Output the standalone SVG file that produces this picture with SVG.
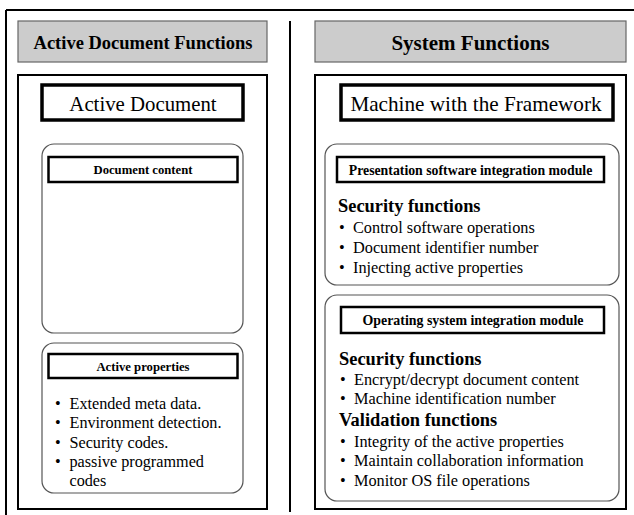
<svg xmlns="http://www.w3.org/2000/svg" width="634" height="515" viewBox="0 0 634 515">
<style>
.hdr{fill:#cccccc;stroke:#666;stroke-width:1.2}
.cont{fill:#fff;stroke:#000;stroke-width:2}
.title{fill:#fff;stroke:#000;stroke-width:3.5}
.rnd{fill:#fff;stroke:#555;stroke-width:1.2}
.lbl{fill:#fff;stroke:#000;stroke-width:2.5}
.b{font-weight:bold}
.line{stroke:#000;stroke-width:2;fill:none}
</style>
<rect width="634" height="515" fill="#fff"/>
<g font-family="Liberation Serif, Times New Roman, serif" fill="#000">
<g id="frame">
<line class="line" x1="6" y1="10" x2="634" y2="10"/>
<line class="line" x1="6" y1="10" x2="6" y2="515"/>
</g>
<g id="connectors">
<line class="line" x1="290" y1="21" x2="290" y2="512"/>
</g>
<g id="left-header">
<rect class="hdr" x="18" y="21" width="249" height="41"/>
<text class="b" x="143" y="49" font-size="18.5" text-anchor="middle">Active Document Functions</text>
</g>
<g id="right-header">
<rect class="hdr" x="315" y="21" width="311" height="41"/>
<text class="b" x="470.5" y="50" font-size="21" text-anchor="middle">System Functions</text>
</g>
<g id="left-container">
<rect class="cont" x="18" y="75" width="249" height="434"/>
</g>
<g id="right-container">
<rect class="cont" x="315" y="75" width="311" height="434"/>
</g>
<g id="active-document">
<rect class="title" x="42" y="85" width="201" height="35"/>
<text x="143" y="111" font-size="20.8" text-anchor="middle">Active Document</text>
</g>
<g id="machine">
<rect class="title" x="341" y="85" width="272" height="35"/>
<text x="476" y="111" font-size="21.2" text-anchor="middle">Machine with the Framework</text>
</g>
<g id="document-content">
<rect class="rnd" x="42" y="144" width="201" height="189" rx="12"/>
<rect class="lbl" x="48.5" y="157" width="189" height="25"/>
<text class="b" x="143" y="174" font-size="12.7" text-anchor="middle">Document content</text>
</g>
<g id="active-properties">
<rect class="rnd" x="42" y="343" width="201" height="150" rx="12"/>
<rect class="lbl" x="48.5" y="354" width="189" height="24"/>
<text class="b" x="143" y="371" font-size="12.7" text-anchor="middle">Active properties</text>
<g font-size="16.2">
<text x="55" y="409">•</text><text x="69.5" y="409">Extended meta data.</text>
<text x="55" y="428">•</text><text x="69.5" y="428">Environment detection.</text>
<text x="55" y="448">•</text><text x="69.5" y="448">Security codes.</text>
<text x="55" y="467">•</text><text x="69.5" y="467">passive programmed</text>
<text x="69.5" y="486">codes</text>
</g>
</g>
<g id="presentation-module">
<rect class="rnd" x="325" y="144" width="294" height="141" rx="12"/>
<rect class="lbl" x="337" y="157" width="267" height="25"/>
<text class="b" x="470.5" y="175" font-size="13.8" text-anchor="middle">Presentation software integration module</text>
<text class="b" x="338" y="212" font-size="18.4">Security functions</text>
<g font-size="16.3">
<text x="339" y="233">•</text><text x="353" y="233">Control software operations</text>
<text x="339" y="253">•</text><text x="353" y="253">Document identifier number</text>
<text x="339" y="273">•</text><text x="353" y="273">Injecting active properties</text>
</g>
</g>
<g id="os-module">
<rect class="rnd" x="325" y="295" width="294" height="206" rx="12"/>
<rect class="lbl" x="341" y="307" width="263" height="26"/>
<text class="b" x="473" y="325" font-size="13.9" text-anchor="middle">Operating system integration module</text>
<text class="b" x="339" y="365" font-size="18.4">Security functions</text>
<g font-size="16.3">
<text x="340" y="385">•</text><text x="354" y="385">Encrypt/decrypt document content</text>
<text x="340" y="404">•</text><text x="354" y="404">Machine identification number</text>
</g>
<text class="b" x="339" y="426" font-size="18.4">Validation functions</text>
<g font-size="16.3">
<text x="340" y="447">•</text><text x="354" y="447">Integrity of the active properties</text>
<text x="340" y="466">•</text><text x="354" y="466">Maintain collaboration information</text>
<text x="340" y="486">•</text><text x="354" y="486">Monitor OS file operations</text>
</g>
</g>
</g>
</svg>
